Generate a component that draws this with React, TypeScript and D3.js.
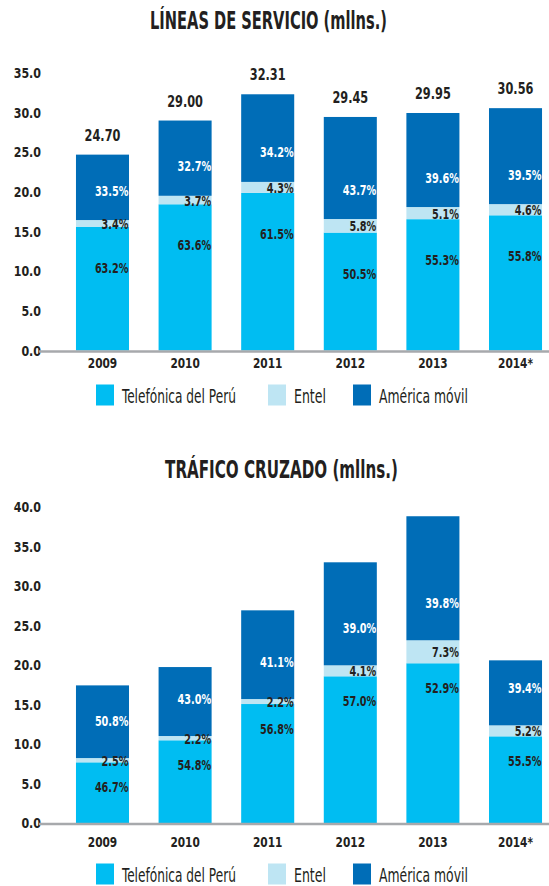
import { useRef, useEffect } from "react"
import * as d3 from "d3"

const years = ["2009", "2010", "2011", "2012", "2013", "2014*"]
const companies = ["Telefónica del Perú", "Entel", "América móvil"]
const colors = ["#00bdf2", "#bee5f3", "#006db7"]

// Líneas de servicio (millones)
const lineTotals = [24.7, 29.0, 32.31, 29.45, 29.95, 30.56]
const lineTelefonica = [15.61, 18.44, 19.87, 14.87, 16.56, 17.05]
const lineEntel = [0.84, 1.07, 1.39, 1.71, 1.53, 1.41]
const lineAmerica = [8.25, 9.49, 11.05, 12.87, 11.86, 12.1]
const linePctTelefonica = ["63.2%", "63.6%", "61.5%", "50.5%", "55.3%", "55.8%"]
const linePctEntel = ["3.4%", "3.7%", "4.3%", "5.8%", "5.1%", "4.6%"]
const linePctAmerica = ["33.5%", "32.7%", "34.2%", "43.7%", "39.6%", "39.5%"]
const lineTicks = [0, 5, 10, 15, 20, 25, 30, 35]

// Tráfico cruzado (millones)
const trafTelefonica = [7.68, 10.47, 15.06, 18.57, 20.22, 10.97]
const trafEntel = [0.54, 0.54, 0.63, 1.39, 2.91, 1.39]
const trafAmerica = [9.2, 8.73, 11.23, 13.04, 15.7, 8.23]
const trafPctTelefonica = ["46.7%", "54.8%", "56.8%", "57.0%", "52.9%", "55.5%"]
const trafPctEntel = ["2.5%", "2.2%", "2.2%", "4.1%", "7.3%", "5.2%"]
const trafPctAmerica = ["50.8%", "43.0%", "41.1%", "39.0%", "39.8%", "39.4%"]
const trafTicks = [0, 5, 10, 15, 20, 25, 30, 35, 40]

const fontFamily = "'Liberation Sans Narrow', 'DejaVu Sans Condensed', 'Roboto Condensed', sans-serif"
const textColor = "#231f20"

// the original uses a condensed face, so narrow each text with a horizontal scale
function squeeze(sel: any, k: number) {
  sel.each(function (this: SVGTextElement) {
    const t = d3.select(this)
    const tx = +t.attr("x")
    const ty = +t.attr("y")
    t.attr("x", 0).attr("y", 0).attr("transform", `translate(${tx},${ty}) scale(${k},1)`)
  })
}

export default function App() {
  const svgRef = useRef<SVGSVGElement>(null)

  function drawPanel(svg: any, cfg: any) {
    const x = d3.scaleBand().domain(years).range([46.4, 571.6]).padding(0.358)
    const y = d3.scaleLinear().domain(cfg.domain).range(cfg.range)
    const g = svg.append("g")

    // Title
    const tt = g
      .append("text")
      .text(cfg.title)
      .attr("x", cfg.titleX)
      .attr("y", cfg.titleY)
      .attr("text-anchor", "middle")
      .style("font-size", "24px")
      .style("font-weight", "bold")
      .style("font-family", fontFamily)
      .style("fill", textColor)
    const tw = (tt.node() as SVGTextElement).getComputedTextLength()
    squeeze(tt, cfg.titleWidth / tw)

    // Y labels
    const yl = g
      .selectAll(".ytick")
      .data(cfg.ticks)
      .enter()
      .append("text")
      .text((d: number) => d3.format(".1f")(d))
      .attr("x", 41)
      .attr("y", (d: number) => y(d) + 5)
      .attr("text-anchor", "end")
      .style("font-size", "14px")
      .style("font-weight", "bold")
      .style("font-family", fontFamily)
      .style("fill", textColor)
    squeeze(yl, 0.88)

    // Stacks
    const rows = years.map((yr, i) => ({
      year: yr,
      tel: cfg.tel[i],
      ent: cfg.ent[i],
      am: cfg.am[i],
    }))
    const stack = d3.stack<any>().keys(["tel", "ent", "am"])(rows)

    stack.forEach((layer, li) => {
      g.append("g")
        .selectAll("rect")
        .data(layer)
        .enter()
        .append("rect")
        .attr("x", (d: any) => x(d.data.year)!)
        .attr("width", x.bandwidth())
        .attr("y", (d: any) => y(d[1]))
        .attr("height", (d: any) => y(d[0]) - y(d[1]))
        .attr("fill", colors[li])
    })

    // Percent labels
    const pctSets = [cfg.pctTel, cfg.pctEnt, cfg.pctAm]
    stack.forEach((layer, li) => {
      const pl = g
        .append("g")
        .selectAll("text")
        .data(layer)
        .enter()
        .append("text")
        .text((d: any, i: number) => pctSets[li][i])
        .attr("x", (d: any) => x(d.data.year)! + x.bandwidth() - 0.5)
        .attr("y", (d: any) => {
          let cy
          if (li === 0) cy = y(d[1]) + cfg.telOffset
          else if (li === 1) cy = (y(d[0]) + y(d[1])) / 2 + 0.5
          else cy = y(d[0]) - cfg.amOffset
          return cy + 5
        })
        .attr("text-anchor", "end")
        .style("font-size", "14px")
        .style("font-weight", "bold")
        .style("font-family", fontFamily)
        .style("fill", li === 2 ? "#ffffff" : textColor)
      squeeze(pl, 0.77)
    })

    // Totals
    if (cfg.totals) {
      const tl = g
        .selectAll(".total")
        .data(cfg.totals)
        .enter()
        .append("text")
        .text((d: number) => d3.format(".2f")(d))
        .attr("x", (d: number, i: number) => x(years[i])! + x.bandwidth() / 2)
        .attr("y", (d: number) => y(d) - 14)
        .attr("text-anchor", "middle")
        .style("font-size", "15px")
        .style("font-weight", "bold")
        .style("font-family", fontFamily)
        .style("fill", textColor)
      squeeze(tl, 0.84)
    }

    // Axis line
    g.append("line")
      .attr("x1", 39)
      .attr("x2", 549)
      .attr("y1", y(0) + 1)
      .attr("y2", y(0) + 1)
      .attr("stroke", "#a7a9ac")
      .attr("stroke-width", 2.5)

    // Years
    const yr = g
      .selectAll(".year")
      .data(years)
      .enter()
      .append("text")
      .text((d: string) => d)
      .attr("x", (d: string) => x(d)! + x.bandwidth() / 2)
      .attr("y", cfg.yearY)
      .attr("text-anchor", "middle")
      .style("font-size", "14px")
      .style("font-weight", "bold")
      .style("font-family", fontFamily)
      .style("fill", textColor)
    squeeze(yr, 0.84)

    // Legend
    const legendX = [96, 268, 353]
    const legendW = [114, 32, 89]
    const legend = g.selectAll(".legend").data(companies).enter().append("g")
    legend
      .append("rect")
      .attr("x", (d: string, i: number) => legendX[i])
      .attr("y", cfg.legendY - 10.5)
      .attr("width", 18)
      .attr("height", 21)
      .attr("fill", (d: string, i: number) => colors[i])
    legend
      .append("text")
      .text((d: string) => d)
      .attr("x", (d: string, i: number) => legendX[i] + 26)
      .attr("y", cfg.legendY + 7.5)
      .style("font-size", "20px")
      .style("font-family", fontFamily)
      .style("fill", textColor)
      .each(function (this: SVGTextElement, d: string, i: number) {
        squeeze(d3.select(this), legendW[i] / this.getComputedTextLength())
      })
  }

  function drawChart() {
    const svg = d3.select(svgRef.current)
    svg.selectAll("*").remove()

    drawPanel(svg, {
      title: "LÍNEAS DE SERVICIO (mllns.)",
      titleX: 268.5,
      titleY: 29,
      titleWidth: 237,
      domain: [0, 35],
      range: [350.5, 350.5 - 35 * 7.93],
      ticks: lineTicks,
      tel: lineTelefonica,
      ent: lineEntel,
      am: lineAmerica,
      pctTel: linePctTelefonica,
      pctEnt: linePctEntel,
      pctAm: linePctAmerica,
      totals: lineTotals,
      telOffset: 41,
      amOffset: 29.5,
      yearY: 368,
      legendY: 395,
    })

    drawPanel(svg, {
      title: "TRÁFICO CRUZADO (mllns.)",
      titleX: 281.5,
      titleY: 478,
      titleWidth: 233,
      domain: [0, 40],
      range: [823, 823 - 40 * 7.9],
      ticks: trafTicks,
      tel: trafTelefonica,
      ent: trafEntel,
      am: trafAmerica,
      pctTel: trafPctTelefonica,
      pctEnt: trafPctEntel,
      pctAm: trafPctAmerica,
      totals: null,
      telOffset: 25,
      amOffset: 37,
      yearY: 847,
      legendY: 874,
    })
  }

  useEffect(() => {
    drawChart()
  }, [svgRef])

  return (
    <div>
      <svg
        ref={svgRef}
        width={549}
        height={886}
        style={{ position: "absolute", left: 0, top: 0, background: "#ffffff" }}
      ></svg>
    </div>
  )
}
